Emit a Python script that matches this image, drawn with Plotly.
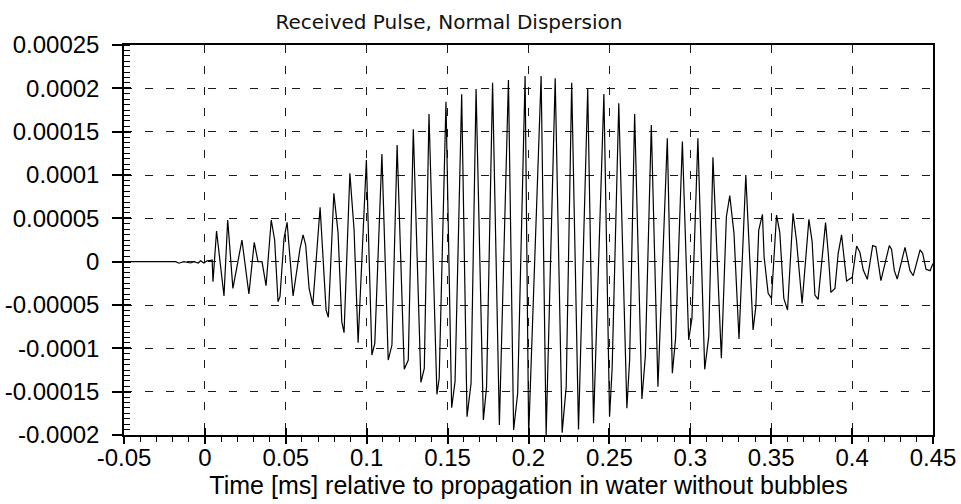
import plotly.graph_objects as go

title_text = "Received Pulse, Normal Dispersion"
x_title = "Time [ms] relative to propagation in water without bubbles"

# time [ms] and amplitude of the received pulse (vertices)
t_ms = [
    -0.05, -0.0181, -0.0161, -0.0130, -0.0089, -0.0068, -0.0041, -0.0027, -0.0006, 0.0014, 0.0035, 0.0045,
    0.0050, 0.0072, 0.0118, 0.0141, 0.0173, 0.0194, 0.0229, 0.0272, 0.0305, 0.0328, 0.0353, 0.0378,
    0.0410, 0.0431, 0.0452, 0.0464, 0.0489, 0.0508, 0.0545, 0.0588, 0.0607, 0.0623, 0.0644, 0.0667,
    0.0712, 0.0749, 0.0763, 0.0797, 0.0823, 0.0846, 0.0860,
    0.0896, 0.0922, 0.0947, 0.0998, 0.1032, 0.1050, 0.1094, 0.1133, 0.1156, 0.1188, 0.1232, 0.1257,
    0.1288, 0.1335, 0.1356, 0.1385, 0.1434, 0.1448, 0.1490, 0.1525, 0.1546, 0.1587, 0.1620, 0.1645,
    0.1676, 0.1721, 0.1741,
    0.1778, 0.1820, 0.1876, 0.1908, 0.1933, 0.1979, 0.2001, 0.2078, 0.2109, 0.2165, 0.2208, 0.2233,
    0.2267, 0.2309, 0.2366, 0.2402, 0.2466, 0.2501, 0.2517, 0.2558, 0.2608, 0.2625,
    0.2656, 0.2701, 0.2722, 0.2759, 0.2800, 0.2858, 0.2889, 0.2909, 0.2951, 0.2990, 0.3010, 0.3047,
    0.3089, 0.3114, 0.3140, 0.3192, 0.3223, 0.3244, 0.3270, 0.3301, 0.3343, 0.3388, 0.3405, 0.3423,
    0.3446, 0.3456, 0.3481, 0.3502, 0.3533,
    0.3553, 0.3578, 0.3601, 0.3635, 0.3656, 0.3691, 0.3733, 0.3753, 0.3770, 0.3790, 0.3836, 0.3852,
    0.3869, 0.3894, 0.3914, 0.3935, 0.3966, 0.4001, 0.4028, 0.4048, 0.4069, 0.4094, 0.4127, 0.4147,
    0.4178, 0.4230, 0.4244, 0.4261, 0.4279, 0.4327, 0.4358, 0.4378, 0.4420, 0.4436, 0.4457, 0.4482,
    0.4500,
]
amplitude = [
    0.0, 0.0, -0.0000018, 0.0, -0.0000015, 0.0, -0.0000015, 0.000001, -0.0000015, 0.000001, 0.0000015, 0.000002,
    -0.0000231, 0.0000354, -0.0000396, 0.0000481, -0.0000308, -0.0000096, 0.000025, -0.0000373, 0.0000223, 0.0, 0.0, -0.0000277,
    0.0000481, 0.000025, -0.0000462, -0.0000404, 0.0000269, 0.0000454, -0.0000396, 0.0000154, 0.0000308, 0.0000192, -0.0000308, -0.00005,
    0.0000627, -0.0000558, -0.0000642, 0.0000788, 0.0000335, -0.0000692, -0.0000819,
    0.0001019, 0.0000365, -0.0000935, 0.0001173, -0.0001077, -0.0000942, 0.0001242, -0.0001135, -0.0000962, 0.0001346, -0.0001242, -0.0001135,
    0.0001527, -0.0001392, -0.0001231, 0.0001704, -0.0001531, -0.0001346, 0.0001846, -0.0001685, -0.0001385, 0.0001931, -0.0001788, -0.0001404,
    0.0001992, -0.0001827, -0.0001442,
    0.0002065, -0.0001885, 0.0002096, -0.0001942, -0.0001519, 0.0002142, -0.0002, 0.0002142, -0.0002, 0.0002115, -0.0001973, -0.0001442,
    0.0002065, -0.0001935, 0.0001992, -0.0001865, 0.0001935, -0.0001788, -0.0001231, 0.0001827, -0.0001692, -0.0001135,
    0.0001704, -0.0001585, -0.0001096, 0.0001577, -0.0001442, 0.0001423, -0.0001288, -0.0000885, 0.0001385, -0.0000904, -0.0000654, 0.0001423,
    -0.0001242, -0.0000865, 0.0001204, -0.0001115, 0.0000519, 0.0000762, 0.0000327, -0.0000892, 0.0001, -0.0000788, -0.0000519, 0.0000365,
    0.0000546, 0.0000058, -0.0000365, -0.0000423, 0.0000538,
    0.0000338, -0.0000423, -0.0000558, 0.0000558, 0.000025, -0.0000481, 0.0000488, 0.0000231, -0.0000385, -0.0000435, 0.000045, 0.0000115,
    -0.0000354, -0.0000308, 0.0000096, 0.0000308, -0.0000223, -0.0000181, 0.0000181, 0.0000108, -0.0000096, -0.0000204, 0.0000185, 0.0000173,
    -0.0000219, 0.0000185, 0.0000142, -0.0000104, -0.00002, 0.0000165, -0.0000104, -0.0000162, 0.0000135, 0.0000096, -0.0000088, -0.0000104,
    -0.000002,
]

x_tick_vals = [-0.05, 0, 0.05, 0.1, 0.15, 0.2, 0.25, 0.3, 0.35, 0.4, 0.45]
x_tick_text = ["-0.05", "0", "0.05", "0.1", "0.15", "0.2", "0.25", "0.3", "0.35", "0.4", "0.45"]
y_tick_vals = [0.00025, 0.0002, 0.00015, 0.0001, 0.00005, 0, -0.00005, -0.0001, -0.00015, -0.0002]
y_tick_text = ["0.00025", "0.0002", "0.00015", "0.0001", "0.00005", "0",
               "-0.00005", "-0.0001", "-0.00015", "-0.0002"]
x_range = [-0.05, 0.45]
y_range = [-0.0002, 0.00025]

tick_font = dict(family="Arial, Liberation Sans, sans-serif", size=24, color="black")
axis_title_font = dict(family="Arial, Liberation Sans, sans-serif", size=25, color="black")
clear = "rgba(0,0,0,0)"

fig = go.Figure()
fig.add_trace(go.Scatter(
    x=t_ms, y=amplitude, mode="lines",
    line=dict(color="black", width=1.2),
    showlegend=False, hoverinfo="skip",
))
# helper traces so the tick-only overlay axes are drawn
fig.add_trace(go.Scatter(x=[None], y=[None], xaxis="x2", yaxis="y2",
                         showlegend=False, hoverinfo="skip"))
fig.add_trace(go.Scatter(x=[None], y=[None], xaxis="x3", yaxis="y3",
                         showlegend=False, hoverinfo="skip"))

grid_style = dict(showgrid=True, gridcolor="#1a1a1a", gridwidth=1.2, griddash="8px,13px")


def tick_axis(rng, vals, overlay, anchor, side, direction, length):
    return dict(
        range=rng, overlaying=overlay, anchor=anchor, side=side,
        tickmode="array", tickvals=vals, ticks=direction, ticklen=length,
        tickwidth=1.5, tickcolor="black", showticklabels=False,
        showgrid=False, zeroline=False, showline=False, automargin=False,
    )


fig.update_layout(
    width=961, height=504,
    margin=dict(l=124, r=28, t=45, b=69, pad=0, autoexpand=False),
    paper_bgcolor="white", plot_bgcolor="white",
    title=dict(
        text=title_text, x=449 / 961, xref="container", xanchor="center",
        y=1 - 22 / 504, yref="container", yanchor="middle",
        font=dict(family="DejaVu Sans", size=20, color="#111111"),
    ),
    xaxis=dict(
        range=x_range, tickmode="array", tickvals=x_tick_vals, ticktext=x_tick_text,
        ticks="outside", ticklen=0, tickcolor=clear,
        showline=True, linecolor="black", linewidth=1.5, mirror=True,
        zeroline=False, tickfont=tick_font, automargin=False,
        minor=dict(dtick=0.01, tick0=0, ticks="outside", ticklen=5, tickwidth=1,
                   tickcolor="black", showgrid=False),
        title=dict(text=x_title, font=axis_title_font, standoff=2),
        **grid_style,
    ),
    yaxis=dict(
        range=y_range, tickmode="array", tickvals=y_tick_vals, ticktext=y_tick_text,
        ticks="outside", ticklen=18, tickcolor=clear,
        showline=True, linecolor="black", linewidth=1.5, mirror=True,
        zeroline=False, tickfont=tick_font, automargin=False,
        minor=dict(dtick=0.00000625, tick0=0, ticks="inside", ticklen=6, tickwidth=1,
                   tickcolor="black", showgrid=False),
        **grid_style,
    ),
    xaxis2=tick_axis(x_range, x_tick_vals, "x", "y", "bottom", "inside", 7),
    yaxis2=tick_axis(y_range, y_tick_vals, "y", "x", "left", "inside", 7),
    xaxis3=tick_axis(x_range, x_tick_vals, "x", "y", "bottom", "outside", 8),
    yaxis3=tick_axis(y_range, y_tick_vals, "y", "x", "left", "outside", 11),
)

fig.write_html("out.html", config={"displayModeBar": False},
               post_script="document.body.style.margin='0';")
